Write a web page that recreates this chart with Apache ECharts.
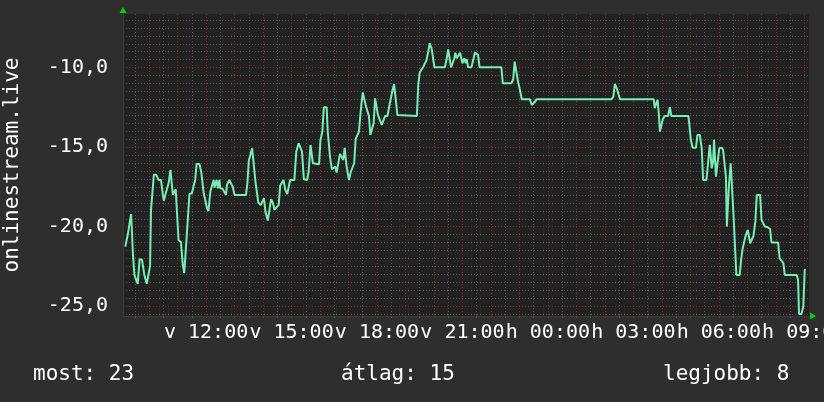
<!DOCTYPE html>
<html>
<head>
<meta charset="utf-8">
<script src="https://cdn.jsdelivr.net/npm/echarts@6/dist/echarts.min.js"></script>
<style>
html,body{margin:0;padding:0;background:#2e2e2e;}
#c{width:824px;height:402px;}
</style>
</head>
<body>
<div id="c"></div>
<script>
// time in minutes since 00:00 of the first day (Sunday, "v"), values = -rank
const times = [
550,552,555,559,562,564,566,569,573,576,580,585,587,590,593,595,599,602,604,607,
610,615,620,625,629,631,634,638,641,645,648,650,653,656,659,662,665,667,671,674,
678,681,684,685,690,694,697,700,706,710,712,715,718,722,725,729,732,736,738,742,
745,748,750,755,759,762,764,769,773,776,780,804,807,810,814,817,821,824,828,830,
835,838,842,845,850,854,857,861,864,868,873,876,880,883,887,891,894,897,906,910,
915,919,922,926,933,936,940,943,945,948,958,961,965,968,974,976,981,985,989,992,
995,999,1002,1006,1009,1012,1016,1021,1025,1029,1032,1035,1039,1042,1045,1047,1050,1054,1057,1060,
1063,1066,1070,1073,1076,1079,1082,1085,1090,1094,1097,1102,1106,1109,1112,1116,1119,1123,1126,1164,
1167,1170,1174,1177,1181,1184,1188,1191,1195,1198,1201,1223,1227,1230,1234,1236,1239,1243,1245,1248,
1252,1255,1258,1260,1264,1267,1269,1272,1279,1283,1286,1290,1293,1296,1342,1345,1363,1367,1370,1374,
1377,1380,1383,1385,1402,1406,1409,1413,1416,1574,1578,1581,1585,1588,1592,1663,1665,1668,1671,1674,
1676,1679,1682,1686,1693,1697,1700,1736,1738,1741,1745,1752,1755,1760,1764,1767,1774,1778,1781,1783,
1785,1788,1790,1792,1794,1797,1801,1806,1809,1813,1815,1817,1819,1821,1823,1825,1828,1831,1834,1837,
1844,1847,1850,1854,1856,1861,1863,1866,1870,1873,1877,1880,1887,1890,1894,1897,1903,1908,1911,1925,
1928,1932,1936,1939,1964,1967,1969,1974,1978,1981,1983
];
const values = [
-21.25,-20.93,-20.51,-20.51,-19.21,-20.41,-21.77,-23.03,-23.03,-23.59,-22.04,-22.08,-22.08,-23.03,-23.13,-23.59,-23.59,-22.46,-18.94,-18.88,
-16.74,-16.74,-17.06,-17.06,-18.0,-18.36,-18.0,-18.0,-17.27,-16.43,-16.43,-18.0,-18.0,-17.64,-17.64,-20.83,-20.93,-20.97,-22.40,-22.92,
-22.92,-19.78,-19.68,-17.94,-17.90,-17.85,-17.06,-16.05,-16.05,-16.60,-16.60,-17.90,-17.94,-18.84,-19.01,-17.79,-17.69,-17.06,-17.54,-17.06,
-17.58,-17.06,-17.58,-17.62,-17.69,-18.0,-17.37,-17.06,-17.06,-17.48,-18.0,-18.0,-17.27,-15.86,-15.86,-15.07,-16.26,-17.16,-17.20,-18.48,
-18.63,-18.63,-18.21,-19.05,-19.61,-19.61,-18.27,-18.52,-18.94,-18.98,-18.63,-17.43,-17.31,-17.06,-17.69,-17.94,-17.94,-17.06,-17.06,-15.28,
-14.75,-14.75,-15.28,-17.02,-17.06,-16.53,-14.86,-14.86,-16.01,-16.07,-16.07,-14.54,-14.02,-12.49,-12.49,-13.92,-15.59,-16.39,-16.39,-16.22,
-16.60,-16.60,-15.42,-15.42,-15.80,-15.04,-16.22,-17.06,-16.53,-16.53,-16.01,-14.50,-14.38,-14.02,-12.97,-12.35,-11.57,-11.57,-12.45,-12.55,
-13.04,-14.23,-14.23,-13.50,-11.93,-11.93,-12.97,-13.04,-13.60,-13.60,-13.04,-13.04,-12.41,-12.41,-11.51,-11.03,-11.03,-12.97,-13.04,-13.04,
-11.05,-10.31,-10.25,-9.98,-9.73,-9.56,-9.0,-8.47,-8.79,-8.83,-9.98,-9.98,-9.41,-8.85,-8.85,-9.98,-9.98,-9.41,-9.06,-9.41,
-9.41,-9.06,-9.06,-9.73,-9.41,-9.73,-9.48,-9.98,-9.98,-9.48,-9.06,-9.14,-9.20,-9.98,-9.98,-10.98,-10.98,-10.73,-9.62,-9.62,
-10.88,-11.24,-11.24,-11.99,-11.99,-12.35,-12.28,-12.14,-11.99,-11.99,-11.82,-11.03,-11.30,-11.36,-11.99,-11.99,-12.55,-12.55,-12.03,-13.04,
-14.02,-14.02,-13.25,-13.04,-13.04,-12.49,-13.04,-13.04,-13.60,-14.54,-15.03,-15.03,-14.23,-14.23,-15.07,-17.06,-17.06,-15.80,-14.86,-14.86,
-16.32,-15.91,-14.54,-14.54,-16.85,-16.85,-15.07,-15.03,-15.17,-15.28,-16.85,-19.99,-19.99,-17.58,-17.58,-16.01,-16.01,-19.26,-19.36,-23.03,
-23.03,-22.08,-21.41,-21.41,-20.62,-20.20,-20.51,-21.04,-20.99,-20.58,-19.68,-18.0,-18.0,-19.57,-19.61,-19.99,-20.03,-20.14,-20.99,-20.99,
-21.98,-22.04,-22.29,-23.03,-23.03,-23.34,-25.48,-25.48,-25.02,-22.71,-22.67
];
const xLabelTicks = [720, 900, 1080, 1260, 1440, 1620, 1800, 1980];
const xLabelTexts = ['v 12:00', 'v 15:00', 'v 18:00', 'v 21:00', 'h 00:00', 'h 03:00', 'h 06:00', 'h 09:00'];
const yLabelTicks = [-25, -20, -15, -10];
const yLabelTexts = ['-25,0', '-20,0', '-15,0', '-10,0'];
const axisName = 'onlinestream.live';
const footer = ['most: 23', 'átlag: 15', 'legjobb: 8'];

const X_MIN = 545, X_MAX = 1990, Y_MIN = -25.61, Y_MAX = -6.63;
const hourTicks = [], halfTicks = [];
for (let m = 570; m <= 1980; m += 30) { if (m % 60 === 0) hourTicks.push(m); else halfTicks.push(m); }
const yMinor = [];
for (let v = -25.5; v <= -7; v += 0.5) { if (v % 5 !== 0) yMinor.push(v); }

const FONT = 'DejaVu Sans Mono';
const GRAY = '#505050', RED = '#7a2c2c';
const data = times.map((t, i) => [t, values[i]]);

const chart = echarts.init(document.getElementById('c'), null, {renderer: 'canvas'});
chart.setOption({
  backgroundColor: '#2e2e2e',
  animation: false,
  grid: {left: 123, right: 15, top: 14, bottom: 86, show: true, backgroundColor: '#222222', borderWidth: 0,
         containLabel: false, outerBoundsMode: 'none'},
  xAxis: [
    {type: 'value', min: X_MIN, max: X_MAX, position: 'bottom',
     axisLine: {show: false}, axisLabel: {show: false},
     axisTick: {show: true, customValues: halfTicks, length: 2, lineStyle: {color: GRAY}},
     splitLine: {show: true, lineStyle: {color: GRAY, type: [1, 2], width: 1}}},
    {type: 'value', min: X_MIN, max: X_MAX, position: 'bottom',
     axisLine: {show: true, lineStyle: {color: '#3c3c3c'}},
     axisTick: {show: true, customValues: hourTicks, length: 2, lineStyle: {color: RED}},
     axisLabel: {show: true, customValues: xLabelTicks, hideOverlap: false, showMinLabel: true, showMaxLabel: true,
       color: '#ffffff', fontFamily: FONT, fontSize: 20, margin: 7,
       formatter: v => xLabelTexts[xLabelTicks.indexOf(v)] || ''},
     splitLine: {show: true, lineStyle: {color: RED, type: [1, 2], width: 1}}},
    {type: 'value', min: X_MIN, max: X_MAX, position: 'bottom',
     axisLine: {show: true, symbol: ['none', 'triangle'], symbolSize: [7, 6], symbolOffset: [0, 4], lineStyle: {color: '#00d000', width: 0}},
     axisTick: {show: false}, axisLabel: {show: false}, splitLine: {show: false}}
  ],
  yAxis: [
    {type: 'value', min: Y_MIN, max: Y_MAX, position: 'left',
     axisLine: {show: false}, axisLabel: {show: false},
     axisTick: {show: false, customValues: yMinor},
     splitLine: {show: true, lineStyle: {color: GRAY, type: [1, 2], width: 1}}},
    {type: 'value', min: Y_MIN, max: Y_MAX, position: 'left',
     name: axisName, nameLocation: 'middle', nameGap: 100, nameRotate: 90,
     nameTextStyle: {color: '#ffffff', fontFamily: FONT, fontSize: 21},
     axisLine: {show: true, lineStyle: {color: '#3c3c3c'}},
     axisTick: {show: false, customValues: yLabelTicks},
     axisLabel: {show: true, customValues: yLabelTicks, hideOverlap: false, color: '#ffffff', fontFamily: FONT, fontSize: 20, margin: 15,
       formatter: v => yLabelTexts[yLabelTicks.indexOf(v)] || ''},
     splitLine: {show: true, lineStyle: {color: RED, type: [1, 2], width: 1}}},
    {type: 'value', min: Y_MIN, max: Y_MAX, position: 'left',
     axisLine: {show: true, symbol: ['none', 'triangle'], symbolSize: [7, 6], symbolOffset: [0, 4], lineStyle: {color: '#00d000', width: 0}},
     axisTick: {show: false}, axisLabel: {show: false}, splitLine: {show: false}}
  ],
  series: [{
    type: 'line', xAxisIndex: 1, yAxisIndex: 1, data: data,
    showSymbol: false, symbol: 'none',
    lineStyle: {color: '#78eeb6', width: 2},
    z: 10
  }],
  graphic: [
    {type: 'text', left: 33, top: 364, style: {text: footer[0], fill: '#ffffff', font: '21px "DejaVu Sans Mono"'}},
    {type: 'text', left: 341, top: 364, style: {text: footer[1], fill: '#ffffff', font: '21px "DejaVu Sans Mono"'}},
    {type: 'text', left: 663, top: 364, style: {text: footer[2], fill: '#ffffff', font: '21px "DejaVu Sans Mono"'}}
  ]
});
</script>
</body>
</html>
